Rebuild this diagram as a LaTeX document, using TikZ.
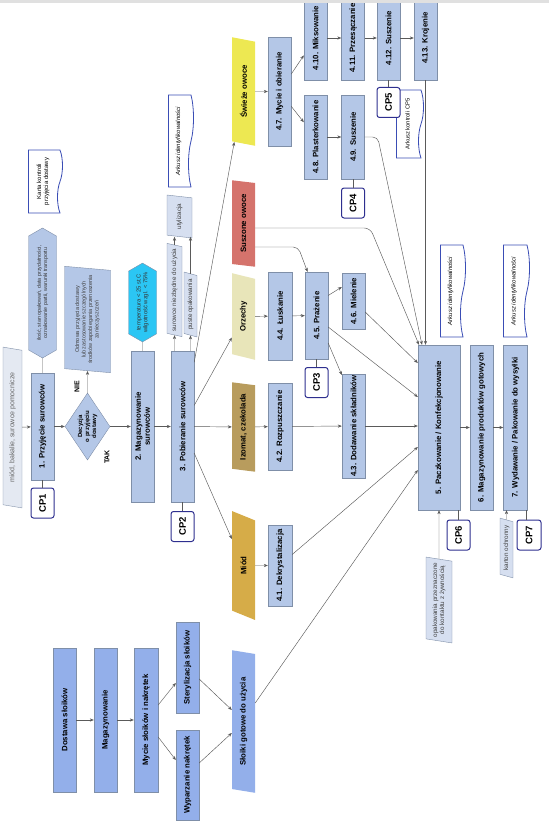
\documentclass[tikz,border=0pt]{standalone}
\usepackage{fontspec}
\setmainfont{Liberation Sans}
\usetikzlibrary{shapes.geometric, shapes.symbols, arrows.meta}
\definecolor{flowBlue}{HTML}{B4C7E7}
\definecolor{flowEdge}{HTML}{7F8FA8}
\definecolor{noteBlue}{HTML}{D6DFF0}
\definecolor{paleBlue}{HTML}{E4E9F2}
\definecolor{jarBlue}{HTML}{93AFEA}
\definecolor{cpNavy}{HTML}{2E2F8F}
\definecolor{docBlue}{HTML}{3A4DB5}
\definecolor{lineGray}{HTML}{5A5A5A}
\definecolor{freshYellow}{HTML}{EDE852}
\definecolor{driedRed}{HTML}{D5736C}
\definecolor{nutCream}{HTML}{E8E5B9}
\definecolor{chocBrown}{HTML}{B89C5D}
\definecolor{honeyGold}{HTML}{D6AC48}
\definecolor{tempCyan}{HTML}{2BC6F4}

\begin{document}
\begin{tikzpicture}[x=1pt, y=-1pt,
    every node/.style={rotate=90, inner sep=1pt, align=center},
    box/.style={draw=flowEdge, fill=flowBlue, font=\fontsize{7.8}{9}\selectfont\bfseries},
    jar/.style={box, fill=jarBlue, minimum width=144, minimum height=23},
    datain/.style={trapezium, trapezium left angle=75, trapezium right angle=105,
      trapezium stretches=true, font=\fontsize{7.8}{9}\selectfont\bfseries, minimum height=23},
    note/.style={datain, draw=flowEdge, fill=noteBlue, text=black!75,
      font=\fontsize{6.3}{7.2}\selectfont},
    thinslant/.style={trapezium left angle=68, trapezium right angle=112},
    wideslant/.style={trapezium left angle=82, trapezium right angle=98},
    cp/.style={draw=cpNavy, fill=white, line width=1pt, rounded corners=2.5pt,
      font=\fontsize{9.5}{10}\selectfont\bfseries, minimum width=30, minimum height=23},
    doc/.style={tape, tape bend top=none, tape bend bottom=out and in, tape bend height=5pt,
      draw=docBlue, line width=0.8pt, fill=white, font=\fontsize{6}{7}\selectfont},
    hexnote/.style={signal, signal to=east and west, signal pointer angle=120,
      draw=flowEdge, fill=flowBlue, text=black!80, font=\fontsize{5.3}{6.2}\selectfont},
    arr/.style={draw=lineGray, line width=0.45pt, -{Stealth[length=4pt, width=3.2pt]}},
    lnk/.style={draw=lineGray, line width=0.45pt},
    tag/.style={font=\fontsize{7}{8}\selectfont\bfseries}]
  \useasboundingbox (0,0) rectangle (549,821);
  \clip (0,0) rectangle (549,821);

  \node[note, fill=paleBlue, text=black!60, font=\fontsize{7}{8}\selectfont,
    minimum width=161, minimum height=19] (raw) at (12.5,427.5) {miód, bakalie, surowce pomocnicze};
  \node[box, minimum width=107, minimum height=23] (recv) at (42.5,426.5) {1. Przyjęcie surowców};
  \node[cp] (cp1) at (42.5,503) {CP1};
  \node[hexnote, minimum width=130, minimum height=28] (check) at (42.5,293)
    {ilość, stan opakowań, data przydatności,\\oznakowanie partii, warunki transportu};
  \node[doc, minimum width=63, minimum height=34] (card) at (43,181.5) {Karta kontroli\\przyjęcia dostawy};
  \node[diamond, aspect=1.5, draw=flowEdge, fill=flowBlue, inner sep=0pt,
    font=\fontsize{6}{7}\selectfont\bfseries, minimum width=67, minimum height=45]
    (decide) at (87.5,426.5) {Decyzja\\o przyjęciu\\dostawy};
  \node[note, wideslant, fill=flowBlue, font=\fontsize{5.5}{6.5}\selectfont, minimum width=107,
    minimum height=46] (reject) at (87.5,319.5)
    {Odmowa przyjęcia dostawy\\lub zastosowanie szczególnych\\środków zapobiegania przenoszenia\\zanieczyszczeń};
  \node[tag] (no) at (77,387) {NIE};
  \node[tag] (yes) at (107,457) {TAK};
  \node[box, minimum width=151, minimum height=23] (store) at (142.5,426.5) {2. Magazynowanie\\surowców};
  \node[hexnote, fill=tempCyan, font=\fontsize{5.8}{6.8}\selectfont, minimum width=71,
    minimum height=28] (climate) at (142.5,302.5) {temperatura < 25 st.C\\wilgotność wzgl. < 75\%};
  \node[box, minimum width=151, minimum height=23] (pick) at (182.5,426.5) {3. Pobieranie surowców};
  \node[cp] (cp2) at (182.5,526.5) {CP2};
  \node[note, thinslant, minimum width=94, minimum height=15] (spare) at (174.5,290) {surowce niezbędne do użycia};
  \node[note, thinslant, minimum width=65, minimum height=13] (empty) at (190.5,304.5) {puste opakowania};
  \node[note, minimum width=43, minimum height=25] (waste) at (179.5,216.5) {utylizacja};
  \node[doc, font=\fontsize{6}{7}\selectfont\itshape, minimum width=92, minimum height=25]
    (trace1) at (178.5,141) {Arkusz identyfikowalności};

  \node[datain, fill=freshYellow, minimum width=109] (fresh) at (243.5,91.5) {Świeże owoce};
  \node[datain, fill=driedRed, minimum width=87] (dried) at (243.5,223.5) {Suszone owoce};
  \node[datain, fill=nutCream, minimum width=87] (nuts) at (243.5,316.5) {Orzechy};
  \node[datain, fill=chocBrown, minimum width=90] (choco) at (243.5,427) {Izomat, czekolada};
  \node[datain, fill=honeyGold, minimum width=109] (honey) at (243.5,565.5) {Miód};
  \node[datain, fill=jarBlue, minimum width=143] (jarsReady) at (243.5,721.5) {Słoiki gotowe do użycia};

  \node[box, minimum width=109, minimum height=23] (wash) at (279.5,91.5) {4.7. Mycie i obieranie};
  \node[box, minimum width=88, minimum height=24] (shell) at (280,316) {4.4. Łuskanie};
  \node[box, minimum width=87, minimum height=24] (melt) at (280,426.5) {4.2. Rozpuszczanie};
  \node[box, minimum width=81, minimum height=24] (decryst) at (280,565.5) {4.1. Dekrystalizacja};

  \node[box, minimum width=84, minimum height=23] (mix) at (315.5,38) {4.10. Miksowanie};
  \node[box, minimum width=84, minimum height=23] (slice) at (315.5,137) {4.8. Plasterkowanie};
  \node[box, minimum width=87, minimum height=23] (roast) at (316.5,315.5) {4.5. Prażenie};
  \node[cp] (cp3) at (316.5,382.5) {CP3};
  \node[box, minimum width=84, minimum height=23] (strain) at (353,38) {4.11. Przesączanie};
  \node[box, minimum width=84, minimum height=23] (dry1) at (353,137) {4.9. Suszenie};
  \node[cp] (cp4) at (353,203) {CP4};
  \node[box, minimum width=56, minimum height=23] (grind) at (353.5,301) {4.6. Mielenie};
  \node[box, minimum width=104, minimum height=23] (addin) at (353.5,426) {4.3. Dodawanie składników};
  \node[box, minimum width=84, minimum height=23] (dry2) at (388.5,38) {4.12. Suszenie};
  \node[doc, font=\fontsize{5.8}{6.8}\selectfont, minimum width=68, minimum height=27]
    (sheet5) at (407.5,124) {Arkusz kontroli CP5};
  \node[cp] (cp5) at (388.5,102.5) {CP5};
  \node[box, minimum width=84, minimum height=23] (cut) at (425.5,38) {4.13. Krojenie};

  \node[box, minimum width=165, minimum height=42] (pack) at (439,427.5) {5. Paczkowanie / Konfekcjonowanie};
  \node[cp] (cp6) at (458.5,535) {CP6};
  \node[note, minimum width=86, minimum height=26] (foodpack) at (439,600)
    {opakowania przeznaczone\\do kontaktu z żywnością};
  \node[doc, font=\fontsize{6}{7}\selectfont\itshape, minimum width=92, minimum height=25]
    (trace2) at (450.5,291) {Arkusz identyfikowalności};
  \node[box, minimum width=165, minimum height=23] (finstore) at (481.5,427.5) {6. Magazynowanie produktów gotowych};
  \node[box, minimum width=165, minimum height=24] (ship) at (515.5,427.5) {7. Wydawanie / Pakowanie do wysyłki};
  \node[doc, font=\fontsize{6}{7}\selectfont\itshape, minimum width=92, minimum height=26]
    (trace3) at (514,291) {Arkusz identyfikowalności};
  \node[cp, minimum height=24] (cp7) at (529,535) {CP7};
  \node[note, thinslant, minimum width=60, minimum height=13] (carton) at (506.5,548) {karton ochronny};

  \node[jar] (jarIn) at (64.5,720) {Dostawa słoików};
  \node[jar] (jarStore) at (105.5,720) {Magazynowanie};
  \node[jar, minimum height=24] (jarWash) at (146,720) {Mycie słoików i nakrętek};
  \node[jar, minimum width=91] (sterile) at (187.5,667.5) {Sterylizacja słoików};
  \node[jar, minimum width=90] (scald) at (187.5,775) {Wyparzanie nakrętek};

  \draw[arr] (raw) -- (recv);
  \draw[lnk] (check) -- (recv);
  \draw[lnk] (recv) -- (cp1);
  \draw[arr] (recv) -- (decide);
  \draw[arr] (decide) -- (reject);
  \draw[arr] (decide) -- (store);
  \draw[lnk] (climate) -- (store);
  \draw[arr] (store) -- (pick);
  \draw[lnk] (pick) -- (cp2);
  \draw[arr] (pick.east -| spare) -- (spare);
  \draw[arr] (pick.east -| empty) -- (empty);
  \draw[arr] (spare.east) -- (spare.east |- waste.west);
  \draw[arr] (empty.east) -- (empty.east |- waste.west);
  \draw[arr] (pick) -- (fresh);
  \draw[arr] (pick) -- (nuts);
  \draw[arr] (pick) -- (choco);
  \draw[arr] (pick) -- (honey);

  \draw[arr] (fresh) -- (wash);
  \draw[arr] (nuts) -- (shell);
  \draw[arr] (choco) -- (melt);
  \draw[arr] (honey) -- (decryst);
  \draw[arr] (wash) -- (mix);
  \draw[arr] (wash) -- (slice);
  \draw[arr] (mix) -- (strain);
  \draw[arr] (strain) -- (dry2);
  \draw[arr] (dry2) -- (cut);
  \draw[lnk] (dry2) -- (cp5);
  \draw[arr] (slice) -- (dry1);
  \draw[lnk] (dry1) -- (cp4);
  \draw[arr, rounded corners=5pt] (dry1.south) -- ++(13,0) -- ([xshift=-17pt]pack.east);
  \draw[arr] (cut) -- (cut |- pack.east);
  \draw[arr, rounded corners=6pt] ([yshift=-4.5pt]dried.south) -- ++(115,0) -- ([xshift=-20pt]pack.east);
  \draw[arr, rounded corners=5pt] ([yshift=-23.5pt]dried.south) -- ++(43,0) -- ([xshift=-9pt]roast.east);
  \draw[arr] (shell) -- (roast);
  \draw[lnk] (roast) -- (cp3);
  \draw[arr] ([yshift=20pt]roast.south) -- ([yshift=14pt]grind.north);
  \draw[arr] ([yshift=-27.5pt]roast.south) -- ([yshift=51pt]addin.north);
  \draw[arr] ([yshift=-11.5pt]roast.south) -- ([yshift=30.5pt]pack.north);
  \draw[arr] ([yshift=-11pt]grind.south) -- ([yshift=64.5pt]pack.north);
  \draw[arr] (melt) -- (addin);
  \draw[arr] (addin) -- (addin -| pack.north);
  \draw[arr] ([yshift=11pt]decryst.south) -- ([yshift=-19.5pt]pack.north);
  \draw[arr] ([yshift=18.5pt]jarsReady.south) -- ([yshift=-42.5pt]pack.north);

  \draw[arr] (foodpack) -- (pack);
  \draw[lnk] (cp6.east) -- (cp6.east |- pack.west);
  \draw[arr] (pack) -- (finstore);
  \draw[arr] (finstore) -- (ship);
  \draw[arr] (carton) -- (carton |- ship.west);
  \draw[lnk] ([xshift=-3pt]cp7.east) -- ([xshift=-3pt]cp7.east |- ship.west);

  \draw[arr] (jarIn) -- (jarStore);
  \draw[arr] (jarStore) -- (jarWash);
  \draw[arr] ([yshift=15pt]jarWash.south) -- ([yshift=-15.5pt]sterile.north);
  \draw[arr] ([yshift=-17pt]jarWash.south) -- ([yshift=15pt]scald.north);
  \draw[arr] ([yshift=-11.5pt]sterile.south) -- ([yshift=11.5pt]jarsReady.north);
  \draw[arr] ([yshift=12pt]scald.south) -- ([yshift=-11.5pt]jarsReady.north);

  \fill[black!12] (0,0) rectangle (549,3);
\end{tikzpicture}
\end{document}
